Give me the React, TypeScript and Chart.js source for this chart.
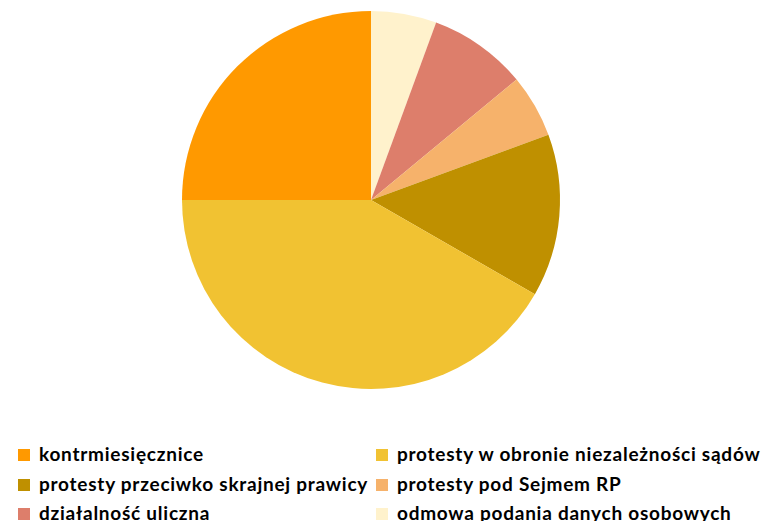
import React, { useEffect, useRef } from "react";
import { Chart, registerables } from "chart.js";

Chart.register(...registerables);

const categories: string[] = [
  "kontrmiesięcznice",
  "protesty w obronie niezależności sądów",
  "protesty przeciwko skrajnej prawicy",
  "protesty pod Sejmem RP",
  "działalność uliczna",
  "odmowa podania danych osobowych",
];
const values: number[] = [25, 41.7, 13.9, 5.4, 8.4, 5.6];
const colors: string[] = ["#FF9900", "#F1C232", "#BF9000", "#F6B26B", "#DD7E6B", "#FFF2CC"];

export default function App() {
  const ref = useRef<HTMLCanvasElement | null>(null);
  useEffect(() => {
    if (!ref.current) return;
    // drawn counter-clockwise in the reference: reverse order for Chart.js clockwise drawing
    const labels = [...categories].reverse();
    const data = [...values].reverse();
    const bg = [...colors].reverse();
    const chart = new Chart(ref.current, {
      type: "pie",
      data: {
        labels,
        datasets: [{ data, backgroundColor: bg, borderWidth: 0 }],
      },
      options: {
        animation: false,
        responsive: true,
        maintainAspectRatio: false,
        layout: { padding: { top: 11, bottom: 11 } },
        plugins: { legend: { display: false }, tooltip: { enabled: false } },
      },
    });
    return () => chart.destroy();
  }, []);

  const colX = [18, 376];
  const rowY = [455, 485, 514];
  return (
    <div style={{ position: "fixed", left: 0, top: 0, width: 762, height: 521, overflow: "hidden", background: "#fff" }}>
      <div style={{ position: "absolute", left: 0, top: 0, width: 742, height: 400 }}>
        <canvas ref={ref} />
      </div>
      {categories.map((c, i) => {
        const col = i % 2;
        const row = Math.floor(i / 2);
        return (
          <div
            key={c}
            style={{
              position: "absolute",
              left: colX[col],
              top: rowY[row] - 12,
              height: 24,
              display: "flex",
              alignItems: "center",
              whiteSpace: "nowrap",
              fontFamily: "Lato, sans-serif",
              fontWeight: 700,
              fontSize: 19,
              letterSpacing: 0.75,
              color: "#000",
            }}
          >
            <span style={{ display: "inline-block", width: 12, height: 12, background: colors[i], marginRight: 9 }} />
            <span style={{ position: "relative", top: -2 }}>{c}</span>
          </div>
        );
      })}
    </div>
  );
}
